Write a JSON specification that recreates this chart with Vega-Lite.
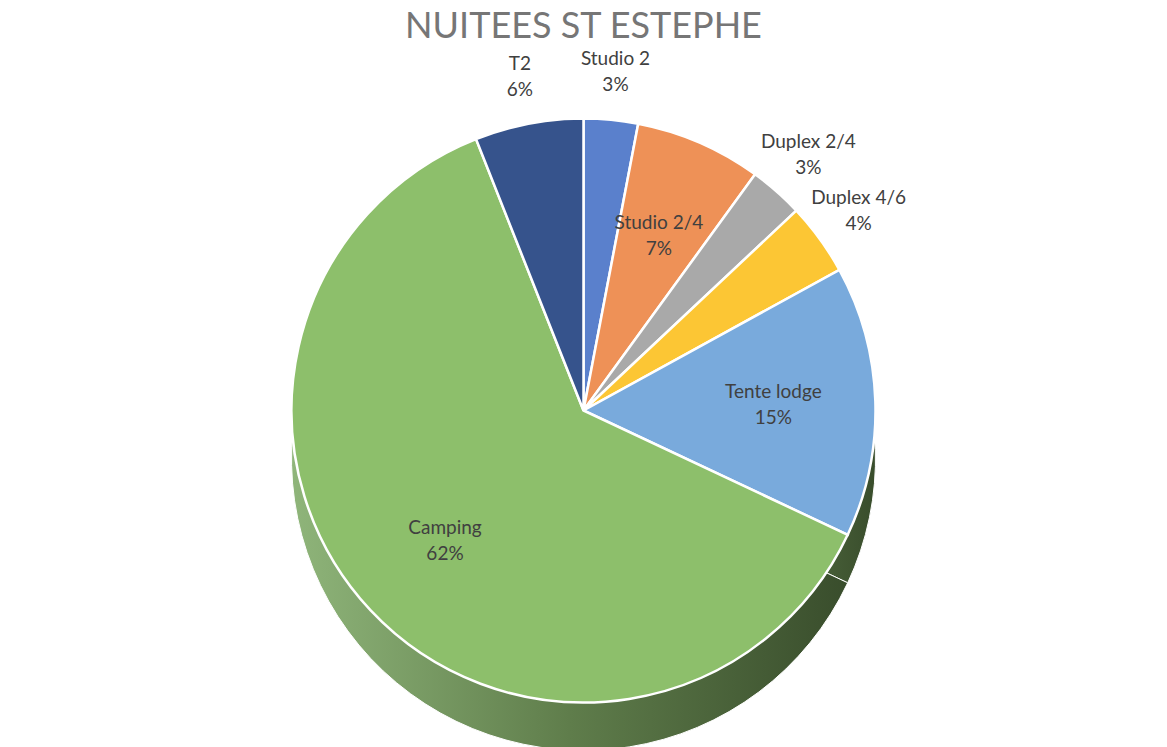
{
  "$schema": "https://vega.github.io/schema/vega-lite/v6.json",
  "autosize": {"type": "fit", "contains": "padding"},
  "width": 1167,
  "height": 747,
  "background": "white",
  "padding": {"top": 38, "left": 5, "right": 5, "bottom": 5},
  "title": {
    "text": "NUITEES ST ESTEPHE",
    "font": "Lato",
    "fontSize": 36,
    "fontWeight": "normal",
    "color": "#767676",
    "anchor": "middle",
    "offset": 4
  },
  "data": {
    "values": [
      {"type": "Studio 2", "share": 0.03, "rank": 1},
      {"type": "Studio 2/4", "share": 0.07, "rank": 2},
      {"type": "Duplex 2/4", "share": 0.03, "rank": 3},
      {"type": "Duplex 4/6", "share": 0.04, "rank": 4},
      {"type": "Tente lodge", "share": 0.15, "rank": 5},
      {"type": "Camping", "share": 0.62, "rank": 6},
      {"type": "T2", "share": 0.06, "rank": 7}
    ]
  },
  "layer": [
    {
      "mark": {
        "type": "arc",
        "radius": 292,
        "yOffset": 48,
        "stroke": "white",
        "strokeWidth": 1,
        "color": {
          "gradient": "linear",
          "x1": 0, "y1": 0, "x2": 1, "y2": 0,
          "stops": [
            {"offset": 0, "color": "#8fb57a"},
            {"offset": 0.5, "color": "#5f7d4b"},
            {"offset": 1, "color": "#394d2c"}
          ]
        }
      },
      "encoding": {
        "theta": {"field": "share", "type": "quantitative", "stack": true},
        "order": {"field": "rank", "type": "quantitative"}
      }
    },
    {
      "mark": {"type": "arc", "radius": 292, "stroke": "white", "strokeWidth": 2.5},
      "encoding": {
        "theta": {"field": "share", "type": "quantitative", "stack": true},
        "order": {"field": "rank", "type": "quantitative"},
        "color": {
          "field": "type",
          "type": "nominal",
          "legend": null,
          "scale": {
            "domain": ["Studio 2", "Studio 2/4", "Duplex 2/4", "Duplex 4/6", "Tente lodge", "Camping", "T2"],
            "range": ["#5a80cc", "#ee9157", "#a9a9a9", "#fcc634", "#79aadc", "#8dbf6b", "#36538c"]
          }
        }
      }
    },
    {
      "mark": {"type": "text", "font": "Lato", "fontSize": 19, "color": "#404040", "dy": -13},
      "encoding": {
        "theta": {"field": "share", "type": "quantitative", "stack": true},
        "order": {"field": "rank", "type": "quantitative"},
        "radius": {"value": 190},
        "text": {"field": "type"},
        "opacity": {"condition": {"test": "indexof(['Studio 2/4','Tente lodge','Camping'], datum.type) >= 0", "value": 1}, "value": 0}
      }
    },
    {
      "mark": {"type": "text", "font": "Lato", "fontSize": 19, "color": "#404040", "dy": 13},
      "encoding": {
        "theta": {"field": "share", "type": "quantitative", "stack": true},
        "order": {"field": "rank", "type": "quantitative"},
        "radius": {"value": 190},
        "text": {"field": "share", "format": ".0%"},
        "opacity": {"condition": {"test": "indexof(['Studio 2/4','Tente lodge','Camping'], datum.type) >= 0", "value": 1}, "value": 0}
      }
    },
    {
      "mark": {"type": "text", "font": "Lato", "fontSize": 19, "color": "#404040", "dy": -13},
      "encoding": {
        "theta": {"field": "share", "type": "quantitative", "stack": true},
        "order": {"field": "rank", "type": "quantitative"},
        "radius": {"value": 340},
        "text": {"field": "type"},
        "opacity": {"condition": {"test": "indexof(['Studio 2/4','Tente lodge','Camping'], datum.type) >= 0", "value": 0}, "value": 1}
      }
    },
    {
      "mark": {"type": "text", "font": "Lato", "fontSize": 19, "color": "#404040", "dy": 13},
      "encoding": {
        "theta": {"field": "share", "type": "quantitative", "stack": true},
        "order": {"field": "rank", "type": "quantitative"},
        "radius": {"value": 340},
        "text": {"field": "share", "format": ".0%"},
        "opacity": {"condition": {"test": "indexof(['Studio 2/4','Tente lodge','Camping'], datum.type) >= 0", "value": 0}, "value": 1}
      }
    }
  ],
  "view": {"stroke": null}
}
